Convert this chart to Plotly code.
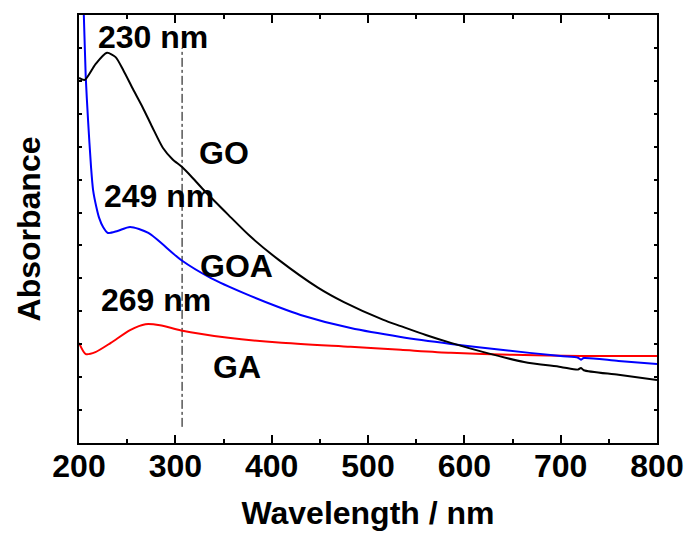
import plotly.graph_objects as go

# UV-vis absorption spectra (arbitrary absorbance units)
go_wl = [200, 206, 217, 229, 238, 246, 256, 266, 276, 287, 297, 307, 318, 329, 355, 378,
         407, 448, 475, 516, 534, 560, 586, 620, 662, 700, 718, 721, 724, 760, 800]
go_abs = [11.09, 11.03, 11.5, 11.85, 11.72, 11.32, 10.75, 10.2, 9.6, 8.97, 8.62, 8.38,
          8.05, 7.70, 6.93, 6.27, 5.57, 4.72, 4.28, 3.74, 3.55, 3.28, 3.04, 2.76, 2.46,
          2.31, 2.23, 2.28, 2.21, 2.07, 1.91]

goa_wl = [200, 203, 205, 207, 209.4, 212.5, 214.6, 218, 221, 225, 230, 240, 253, 272, 306,
          337, 373, 407, 430, 482, 534, 586, 638, 700, 718, 721, 724, 760, 800]
goa_abs = [16.0, 14.3, 13.0, 11.12, 9.8, 8.38, 7.69, 7.17, 6.83, 6.56, 6.38, 6.44, 6.56,
           6.38, 5.56, 5.01, 4.53, 4.13, 3.89, 3.49, 3.22, 3.01, 2.83, 2.64, 2.59, 2.53,
           2.58, 2.49, 2.40]

ga_wl = [200, 207, 217, 233, 253, 269, 284, 306, 355, 407, 482, 534, 586, 650, 721, 800]
ga_abs = [3.04, 2.70, 2.76, 3.04, 3.43, 3.61, 3.58, 3.42, 3.20, 3.05, 2.92, 2.83,
          2.74, 2.68, 2.64, 2.64]

# Reference wavelength marker
marker_wl = 307
marker_span = [0.49, 12.0]

# Text labels: (text, wavelength, absorbance)
label_text = ["230 nm", "GO", "249 nm", "GOA", "269 nm", "GA"]
label_x = [277, 351, 283, 363, 280, 364]
label_y = [12.33, 8.81, 7.50, 5.38, 4.34, 2.31]

FONT = "Liberation Sans, Arial, sans-serif"

fig = go.Figure()
fig.add_trace(go.Scatter(x=[marker_wl, marker_wl], y=marker_span, mode="lines",
                         line=dict(color="black", width=1, dash="dashdot"),
                         showlegend=False, hoverinfo="skip"))
fig.add_trace(go.Scatter(x=ga_wl, y=ga_abs, mode="lines", name="GA",
                         line=dict(color="#ff0000", width=2, shape="spline", smoothing=0.7)))
fig.add_trace(go.Scatter(x=goa_wl, y=goa_abs, mode="lines", name="GOA",
                         line=dict(color="#0000ff", width=2, shape="spline", smoothing=0.7)))
fig.add_trace(go.Scatter(x=go_wl, y=go_abs, mode="lines", name="GO",
                         line=dict(color="black", width=2, shape="spline", smoothing=0.7)))

for t, x, y in zip(label_text, label_x, label_y):
    fig.add_annotation(x=x, y=y, text=t, showarrow=False,
                       font=dict(family=FONT, size=32, color="black", weight="bold"),
                       xanchor="center", yanchor="middle")

fig.update_layout(
    width=688, height=534,
    margin=dict(l=79, r=31, t=15, b=91),
    paper_bgcolor="white", plot_bgcolor="white",
    showlegend=False,
    font=dict(family=FONT, size=32, color="black", weight="bold"),
    xaxis=dict(range=[200, 800], dtick=100, tick0=200, automargin=False,
               ticks="inside", ticklen=8, tickwidth=2, tickcolor="black",
               minor=dict(dtick=50, ticks="inside", ticklen=4, tickwidth=2, tickcolor="black"),
               showline=True, linewidth=2, linecolor="black", mirror="allticks",
               showgrid=False, zeroline=False, ticklabelstandoff=-6,
               tickfont=dict(family=FONT, size=32, weight="bold"),
               title=dict(text="Wavelength / nm", standoff=18,
                          font=dict(family=FONT, size=32, weight="bold"))),
    yaxis=dict(range=[0, 13], dtick=1, tick0=0, automargin=False,
               ticks="inside", ticklen=3, tickwidth=2, tickcolor="black",
               showticklabels=False,
               showline=True, linewidth=2, linecolor="black", mirror="allticks",
               showgrid=False, zeroline=False,
               title=dict(text="Absorbance", standoff=27,
                          font=dict(family=FONT, size=32, weight="bold"))),
)

fig.write_html("out.html")
